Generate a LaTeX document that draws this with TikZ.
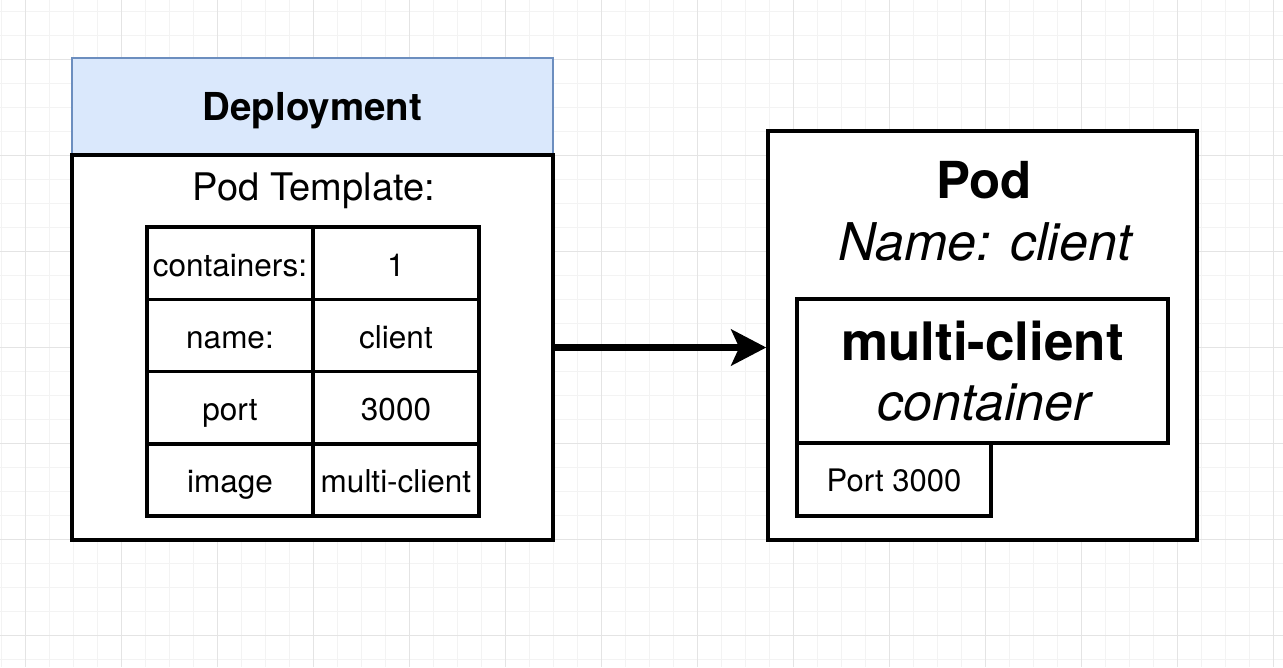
\documentclass[tikz,border=0pt]{standalone}
\usepackage{fontspec}
\setmainfont{TeX Gyre Heros}
\usepackage{xcolor}
\usepackage{tikz}
\usetikzlibrary{positioning,calc,arrows.meta}

\definecolor{headfill}{HTML}{DAE8FC}
\definecolor{headdraw}{HTML}{6C8EBF}
\definecolor{gridlight}{HTML}{F3F3F3}
\definecolor{griddark}{HTML}{E4E4E4}

\begin{document}
\begin{tikzpicture}[
  x=1pt, y=-1pt,
  minorline/.style={gridlight, line width=1pt},
  majorline/.style={griddark, line width=1pt},
  box/.style={draw, line width=3.5pt, fill=white, inner sep=0pt},
  cell/.style={box, minimum width=166pt, minimum height=72.25pt, font=\fontsize{31.5}{37}\selectfont, text height=26pt, text depth=0pt},
  txt/.style={anchor=base, inner sep=0pt},
  arrow/.style={-{Stealth[length=35pt,width=36pt,inset=8pt]}, line width=6.5pt}
]
\useasboundingbox (0,0) rectangle (1283,667);
\fill[white] (0,0) rectangle (1283,667);

% background grid
\foreach \gx in {1,25,...,1273} \draw[minorline] (\gx,0) -- (\gx,667);
\foreach \gy in {11,35,...,659} \draw[minorline] (0,\gy) -- (1283,\gy);
\foreach \gx in {25,121,...,1273} \draw[majorline] (\gx,0) -- (\gx,667);
\foreach \gy in {59,155,...,635} \draw[majorline] (0,\gy) -- (1283,\gy);

% Deployment
\node[draw=headdraw, fill=headfill, line width=2.5pt, inner sep=0pt, minimum width=481pt, minimum height=97pt,
      font=\fontsize{38.5}{44}\selectfont\bfseries, text height=27.5pt, text depth=0pt] (depHead) at (312.5,106.5) {Deployment};
\node[box, minimum width=481pt, minimum height=385pt] (depBody) at (312.5,347.5) {};
\node[txt, font=\fontsize{38}{44}\selectfont] (podTemplate) at (314,200) {Pod Template:};

% template table
\foreach \key/\val [count=\r] in {containers:/1, name:/client, port/3000, image/multi-client} {
  \node[cell] (key\r) at (230,{227+72.25*\r-36.125}) {\key};
  \node[cell] (val\r) at (396,{227+72.25*\r-36.125}) {\val};
}

% Pod
\node[box, minimum width=429pt, minimum height=409pt] (pod) at (982.5,335.5) {};
\node[txt, font=\fontsize{51}{60}\selectfont\bfseries] (podTitle) at (984,198) {Pod};
\node[txt, font=\fontsize{52}{60}\selectfont\itshape] (podName) at (985,260) {Name: client};

\node[box, minimum width=371pt, minimum height=144pt] (cont) at (982.5,371) {};
\node[txt, font=\fontsize{53}{60}\selectfont\bfseries] (contTitle) at (982.5,360) {multi-client};
\node[txt, font=\fontsize{52}{60}\selectfont\itshape] (contKind) at (984,420) {container};

\node[box, minimum width=194pt, minimum height=73pt, font=\fontsize{31}{36}\selectfont,
      text height=24pt, text depth=0pt] (port) at (894,479.5) {Port 3000};

% template -> pod
\draw[arrow] (depBody.east) -- (depBody.east -| pod.west);
\end{tikzpicture}
\end{document}
